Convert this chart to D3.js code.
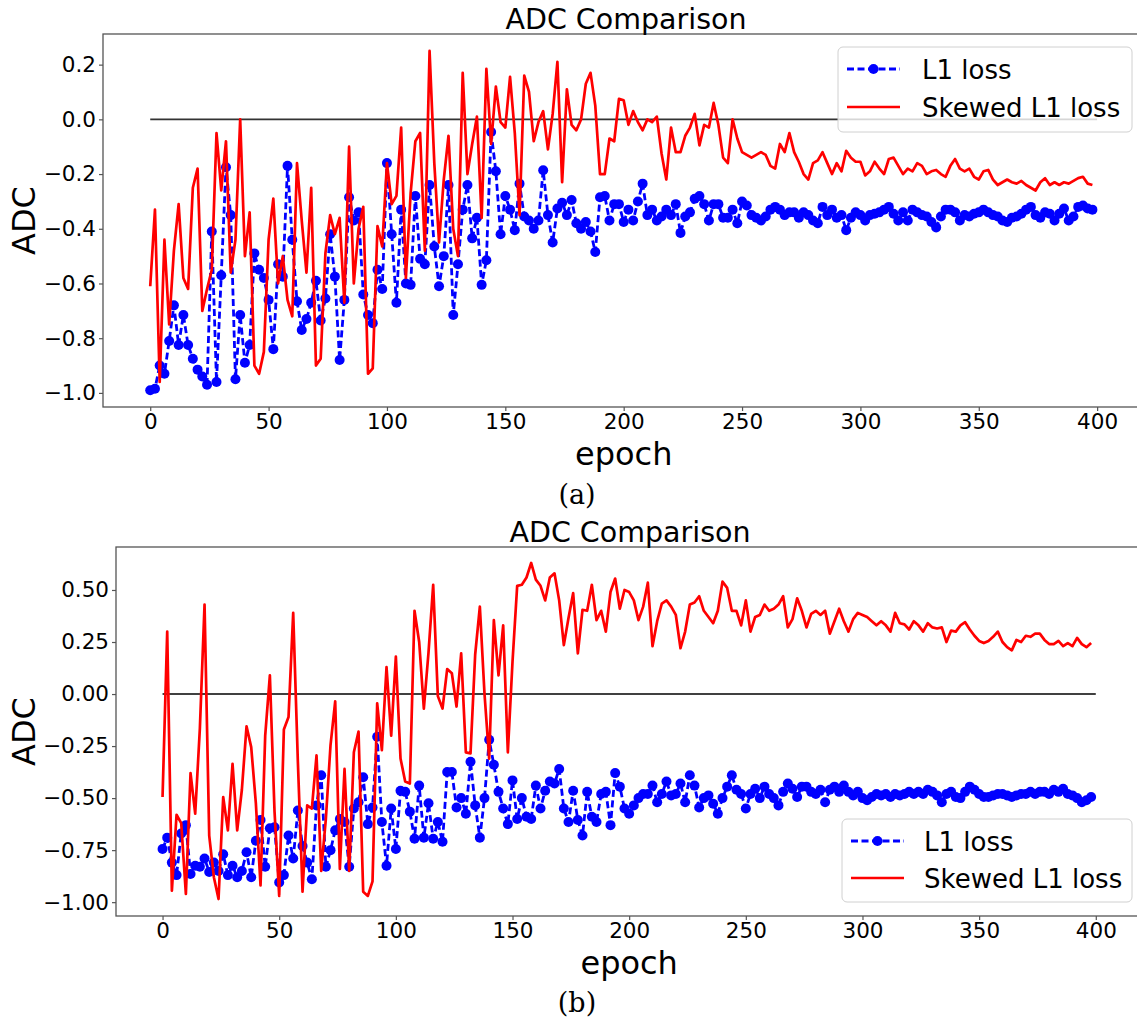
<!DOCTYPE html>
<html><head><meta charset="utf-8">
<script src="https://cdn.jsdelivr.net/npm/d3@7"></script>
<style>body{margin:0;background:#fff}</style>
</head><body>
<svg id="chart" width="1137" height="1023"></svg>
<script>
const epochs = d3.range(0, 400, 2);
const xTicks = [0, 50, 100, 150, 200, 250, 300, 350, 400];
const seriesNames = ["L1 loss", "Skewed L1 loss"];
const titleText = "ADC Comparison";
const xLabel = "epoch";
const yLabel = "ADC";
const topYTicks = [-1.0, -0.8, -0.6, -0.4, -0.2, 0.0, 0.2];
const botYTicks = [-1.0, -0.75, -0.5, -0.25, 0.0, 0.25, 0.5];

const topL1 = [
-0.99,-0.985,-0.90,-0.93,-0.81,-0.68,-0.825,-0.715,-0.825,-0.875,
-0.915,-0.94,-0.97,-0.41,-0.96,-0.57,-0.175,-0.35,-0.95,-0.715,
-0.89,-0.825,-0.49,-0.55,-0.58,-0.66,-0.84,-0.53,-0.575,-0.17,
-0.44,-0.665,-0.77,-0.73,-0.67,-0.59,-0.735,-0.655,-0.42,-0.575,
-0.88,-0.66,-0.285,-0.37,-0.34,-0.64,-0.715,-0.745,-0.55,-0.62,
-0.16,-0.42,-0.67,-0.33,-0.60,-0.605,-0.28,-0.51,-0.53,-0.24,
-0.465,-0.61,-0.50,-0.24,-0.715,-0.53,-0.33,-0.24,-0.435,-0.36,
-0.605,-0.515,-0.046,-0.19,-0.42,-0.28,-0.33,-0.405,-0.235,-0.355,
-0.37,-0.40,-0.37,-0.186,-0.35,-0.45,-0.326,-0.305,-0.35,-0.295,
-0.38,-0.40,-0.375,-0.41,-0.485,-0.285,-0.28,-0.37,-0.31,-0.31,
-0.375,-0.33,-0.37,-0.30,-0.235,-0.35,-0.33,-0.37,-0.355,-0.33,
-0.35,-0.31,-0.415,-0.355,-0.34,-0.29,-0.28,-0.31,-0.37,-0.31,
-0.31,-0.36,-0.36,-0.33,-0.38,-0.30,-0.315,-0.35,-0.36,-0.37,
-0.355,-0.33,-0.32,-0.33,-0.35,-0.34,-0.34,-0.36,-0.34,-0.35,
-0.37,-0.38,-0.32,-0.35,-0.33,-0.36,-0.35,-0.405,-0.36,-0.34,
-0.35,-0.37,-0.35,-0.345,-0.34,-0.33,-0.32,-0.345,-0.37,-0.34,
-0.37,-0.33,-0.34,-0.35,-0.355,-0.375,-0.395,-0.355,-0.33,-0.33,
-0.34,-0.37,-0.35,-0.355,-0.345,-0.34,-0.33,-0.34,-0.35,-0.355,
-0.37,-0.375,-0.36,-0.355,-0.345,-0.33,-0.32,-0.35,-0.36,-0.34,
-0.345,-0.37,-0.345,-0.326,-0.37,-0.355,-0.32,-0.315,-0.326,-0.33];

const topSkewed = [
-0.61,-0.33,-0.96,-0.44,-0.75,-0.48,-0.31,-0.58,-0.62,-0.25,
-0.18,-0.70,-0.62,-0.55,-0.05,-0.26,-0.08,-0.56,-0.44,0.0,
-0.50,-0.34,-0.90,-0.93,-0.85,-0.44,-0.29,-0.60,-0.50,-0.66,
-0.72,-0.16,-0.37,-0.56,-0.25,-0.90,-0.875,-0.49,-0.35,-0.42,
-0.36,-0.67,-0.10,-0.60,-0.40,-0.32,-0.93,-0.91,-0.39,-0.465,
-0.16,-0.31,-0.28,-0.03,-0.58,-0.27,-0.08,-0.05,-0.48,0.25,
-0.16,-0.45,-0.22,-0.06,-0.40,-0.50,0.17,-0.20,-0.09,0.01,
-0.36,0.185,-0.09,0.12,-0.01,-0.03,0.155,-0.05,-0.35,0.16,
0.10,-0.08,-0.01,0.03,-0.11,0.02,0.21,-0.23,0.11,-0.02,
-0.04,0.0,0.13,0.17,0.05,-0.20,-0.20,-0.07,-0.08,0.075,
0.07,-0.02,0.03,-0.01,-0.04,0.0,-0.01,0.01,-0.125,-0.22,
-0.03,-0.12,-0.12,-0.06,-0.03,0.02,-0.095,-0.02,-0.03,0.06,
-0.02,-0.14,-0.16,0.0,-0.07,-0.12,-0.13,-0.14,-0.13,-0.12,
-0.13,-0.17,-0.18,-0.09,-0.12,-0.05,-0.12,-0.156,-0.20,-0.22,
-0.16,-0.15,-0.12,-0.16,-0.20,-0.16,-0.19,-0.115,-0.14,-0.155,
-0.155,-0.205,-0.19,-0.155,-0.18,-0.20,-0.145,-0.14,-0.17,-0.20,
-0.18,-0.19,-0.16,-0.17,-0.20,-0.19,-0.185,-0.20,-0.21,-0.17,
-0.145,-0.18,-0.19,-0.18,-0.21,-0.22,-0.19,-0.185,-0.22,-0.24,
-0.23,-0.22,-0.23,-0.235,-0.225,-0.24,-0.25,-0.26,-0.23,-0.215,
-0.24,-0.23,-0.24,-0.23,-0.235,-0.225,-0.215,-0.21,-0.235,-0.24];

const botL1 = [
-0.745,-0.69,-0.81,-0.87,-0.67,-0.63,-0.865,-0.825,-0.83,-0.79,
-0.855,-0.81,-0.85,-0.77,-0.87,-0.825,-0.88,-0.85,-0.76,-0.88,
-0.705,-0.605,-0.83,-0.645,-0.64,-0.905,-0.87,-0.68,-0.79,-0.56,
-0.73,-0.81,-0.89,-0.535,-0.39,-0.83,-0.75,-0.655,-0.60,-0.615,
-0.83,-0.55,-0.52,-0.40,-0.625,-0.545,-0.205,-0.615,-0.825,-0.55,
-0.745,-0.465,-0.47,-0.565,-0.695,-0.44,-0.69,-0.525,-0.695,-0.615,
-0.71,-0.375,-0.375,-0.545,-0.50,-0.575,-0.325,-0.535,-0.69,-0.50,
-0.22,-0.34,-0.47,-0.55,-0.625,-0.415,-0.60,-0.50,-0.59,-0.60,
-0.44,-0.55,-0.465,-0.42,-0.43,-0.36,-0.55,-0.615,-0.465,-0.605,
-0.68,-0.47,-0.59,-0.615,-0.48,-0.47,-0.63,-0.38,-0.445,-0.55,
-0.575,-0.535,-0.50,-0.48,-0.48,-0.44,-0.52,-0.48,-0.42,-0.487,
-0.48,-0.43,-0.52,-0.39,-0.44,-0.545,-0.50,-0.487,-0.527,-0.575,
-0.50,-0.445,-0.39,-0.46,-0.48,-0.55,-0.48,-0.455,-0.50,-0.445,
-0.48,-0.50,-0.535,-0.47,-0.43,-0.455,-0.495,-0.445,-0.445,-0.47,
-0.48,-0.46,-0.52,-0.46,-0.445,-0.47,-0.44,-0.47,-0.487,-0.47,
-0.50,-0.51,-0.495,-0.48,-0.487,-0.48,-0.495,-0.48,-0.487,-0.48,
-0.47,-0.48,-0.47,-0.48,-0.46,-0.47,-0.487,-0.52,-0.48,-0.47,
-0.495,-0.50,-0.47,-0.445,-0.46,-0.48,-0.495,-0.495,-0.487,-0.48,
-0.48,-0.487,-0.495,-0.487,-0.48,-0.48,-0.47,-0.48,-0.47,-0.47,
-0.48,-0.46,-0.47,-0.455,-0.48,-0.487,-0.50,-0.52,-0.51,-0.495];

const botSkewed = [
-0.495,0.30,-0.945,-0.58,-0.62,-0.96,-0.38,-0.575,-0.165,0.43,
-0.68,-0.88,-0.985,-0.495,-0.655,-0.335,-0.655,-0.46,-0.155,-0.255,
-0.525,-0.92,-0.20,0.09,-0.565,-0.97,-0.17,-0.11,0.39,-0.325,
-0.95,-0.535,-0.55,-0.295,-0.85,-0.60,-0.245,-0.035,-0.84,-0.36,
-0.85,-0.28,-0.18,-0.95,-0.97,-0.90,-0.045,-0.27,0.13,-0.20,
0.18,-0.31,-0.42,-0.43,0.40,0.25,-0.07,0.20,0.525,-0.01,
-0.07,0.12,0.10,-0.06,0.195,-0.28,-0.285,0.19,0.42,0.0,
-0.31,0.355,0.09,0.33,-0.28,0.155,0.52,0.525,0.56,0.63,
0.55,0.52,0.45,0.56,0.58,0.45,0.235,0.365,0.485,0.195,
0.405,0.40,0.525,0.355,0.40,0.30,0.49,0.555,0.41,0.50,
0.49,0.45,0.355,0.42,0.535,0.23,0.35,0.435,0.45,0.42,
0.38,0.22,0.30,0.43,0.44,0.47,0.40,0.37,0.34,0.40,
0.54,0.51,0.40,0.40,0.33,0.45,0.30,0.37,0.38,0.43,
0.40,0.41,0.43,0.47,0.32,0.36,0.46,0.40,0.32,0.385,
0.40,0.38,0.40,0.29,0.35,0.41,0.35,0.30,0.36,0.39,
0.38,0.37,0.35,0.33,0.35,0.33,0.30,0.39,0.34,0.335,
0.31,0.35,0.33,0.30,0.34,0.32,0.315,0.32,0.25,0.305,
0.30,0.33,0.345,0.31,0.28,0.255,0.245,0.255,0.275,0.30,
0.25,0.225,0.21,0.26,0.25,0.28,0.275,0.29,0.29,0.26,
0.24,0.24,0.255,0.23,0.245,0.23,0.27,0.24,0.225,0.245];

const svg = d3.select("#chart");
svg.append("rect").attr("width", 1137).attr("height", 1023).attr("fill", "#fff");
const FONT = "DejaVu Sans, sans-serif";
const BLUE = "#0000ff", RED = "#ff0000";

function panel(o) {
  const x = d3.scaleLinear().domain([-19.95, 418.95]).range([o.left, o.right]);
  const y = d3.scaleLinear().domain(o.yDomain).range([o.bottom, o.top]);
  const g = svg.append("g");

  g.append("line")
    .attr("x1", x(0)).attr("x2", x(400)).attr("y1", y(0)).attr("y2", y(0))
    .attr("stroke", o.zeroColor).attr("stroke-width", o.zeroWidth);

  const line = d3.line().x((d, i) => x(epochs[i])).y(d => y(d));

  g.append("path").datum(o.l1).attr("d", line)
    .attr("fill", "none").attr("stroke", BLUE).attr("stroke-width", 2.8)
    .attr("stroke-dasharray", "7,3.5");
  g.append("g").selectAll("circle").data(o.l1).join("circle")
    .attr("cx", (d, i) => x(epochs[i])).attr("cy", d => y(d))
    .attr("r", 5).attr("fill", BLUE);

  g.append("path").datum(o.skewed).attr("d", line)
    .attr("fill", "none").attr("stroke", RED).attr("stroke-width", 2.7)
    .attr("stroke-linejoin", "round");

  g.append("rect").attr("x", o.left).attr("y", o.top)
    .attr("width", o.right - o.left).attr("height", o.bottom - o.top)
    .attr("fill", "none").attr("stroke", "#555").attr("stroke-width", 1.3);

  const xa = g.append("g").attr("transform", `translate(0,${o.bottom})`)
    .call(d3.axisBottom(x).tickValues(xTicks).tickFormat(d3.format("d")).tickSize(4).tickPadding(3));
  const ya = g.append("g").attr("transform", `translate(${o.left},0)`)
    .call(d3.axisLeft(y).tickValues(o.yTicks).tickFormat(d3.format(o.fmt)).tickSize(4).tickPadding(3));
  [xa, ya].forEach(a => {
    a.select(".domain").remove();
    a.selectAll("line").attr("stroke", "#555").attr("stroke-width", 1.2);
    a.selectAll("text").attr("font-family", FONT).attr("font-size", 21.5).attr("fill", "#000");
  });

  g.append("text").attr("x", o.titleX).attr("y", o.titleY)
    .attr("text-anchor", "middle").attr("font-family", FONT).attr("font-size", 28.5)
    .text(titleText);
  g.append("text").attr("x", x(200)).attr("y", o.xLabelY)
    .attr("text-anchor", "middle").attr("font-family", FONT).attr("font-size", 32)
    .text(xLabel);
  g.append("text").attr("transform", `translate(35,${(o.top + o.bottom) / 2}) rotate(-90)`)
    .attr("text-anchor", "middle").attr("font-family", FONT).attr("font-size", 32)
    .text(yLabel);
  g.append("text").attr("x", 577).attr("y", o.captionY)
    .attr("text-anchor", "middle").attr("font-family", "DejaVu Serif, Liberation Serif, serif")
    .attr("font-size", 27).text(o.caption);

  const L = o.legend;
  const lg = g.append("g");
  lg.append("rect").attr("x", L.x).attr("y", L.y).attr("width", L.w).attr("height", L.h)
    .attr("rx", 5).attr("fill", "#fff").attr("fill-opacity", 0.8)
    .attr("stroke", "#d0d0d0").attr("stroke-width", 1);
  lg.append("line").attr("x1", L.hx0).attr("x2", L.hx1).attr("y1", L.y1).attr("y2", L.y1)
    .attr("stroke", BLUE).attr("stroke-width", 2.8).attr("stroke-dasharray", "7,3.5");
  lg.append("circle").attr("cx", (L.hx0 + L.hx1) / 2).attr("cy", L.y1).attr("r", 5).attr("fill", BLUE);
  lg.append("line").attr("x1", L.hx0).attr("x2", L.hx1).attr("y1", L.y2).attr("y2", L.y2)
    .attr("stroke", RED).attr("stroke-width", 2.7);
  [[L.y1, seriesNames[0]], [L.y2, seriesNames[1]]].forEach(([yy, t]) => {
    lg.append("text").attr("x", L.tx).attr("y", yy + 9.5)
      .attr("font-family", FONT).attr("font-size", 26).text(t);
  });
}

panel({
  left: 103, right: 1142, top: 34, bottom: 407,
  yDomain: [-1.0515, 0.312], yTicks: topYTicks, fmt: ".1f",
  l1: topL1, skewed: topSkewed,
  zeroColor: "#333", zeroWidth: 1.8,
  titleX: 626, titleY: 29, xLabelY: 465, captionY: 504, caption: "(a)",
  legend: { x: 838, y: 47, w: 294, h: 85, y1: 69, y2: 107, hx0: 847, hx1: 900, tx: 922 }
});
panel({
  left: 116, right: 1140, top: 547, bottom: 916,
  yDomain: [-1.0665, 0.7065], yTicks: botYTicks, fmt: ".2f",
  l1: botL1, skewed: botSkewed,
  zeroColor: "#000", zeroWidth: 1.4,
  titleX: 630, titleY: 542, xLabelY: 974, captionY: 1012, caption: "(b)",
  legend: { x: 842, y: 819, w: 290, h: 83, y1: 841, y2: 878, hx0: 851, hx1: 904, tx: 924 }
});
</script>
</body></html>
